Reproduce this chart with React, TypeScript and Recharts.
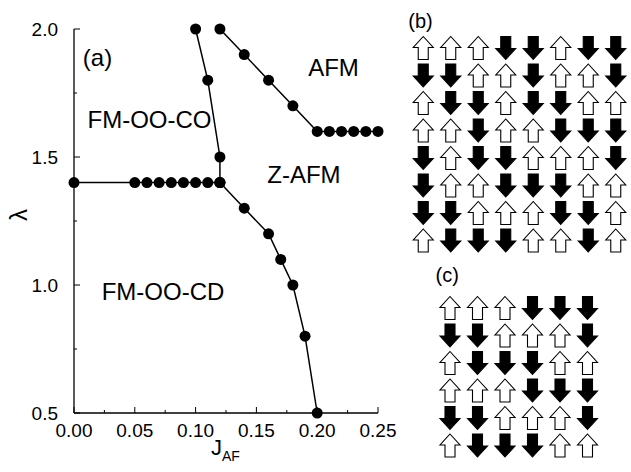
import {
  ComposedChart,
  Line,
  XAxis,
  YAxis,
  ReferenceDot,
  ScatterChart,
  Scatter,
} from "recharts";

const FONT = "'Liberation Sans', Arial, Helvetica, sans-serif";

// phase boundaries, J_AF vs lambda
const coBoundaryJ = [0, 0.05, 0.06, 0.07, 0.08, 0.09, 0.1, 0.11, 0.12];
const coBoundaryLambda = [1.4, 1.4, 1.4, 1.4, 1.4, 1.4, 1.4, 1.4, 1.4];

const zafmLeftJ = [0.12, 0.12, 0.11, 0.1];
const zafmLeftLambda = [1.4, 1.5, 1.8, 2.0];

const afmJ = [0.12, 0.14, 0.16, 0.18, 0.2, 0.21, 0.22, 0.23, 0.24, 0.25];
const afmLambda = [2.0, 1.9, 1.8, 1.7, 1.6, 1.6, 1.6, 1.6, 1.6, 1.6];

const cdJ = [0.12, 0.14, 0.16, 0.17, 0.18, 0.19, 0.2];
const cdLambda = [1.4, 1.3, 1.2, 1.1, 1.0, 0.8, 0.5];

const xTicks = [0, 0.025, 0.05, 0.075, 0.1, 0.125, 0.15, 0.175, 0.2, 0.225, 0.25];
const yTicks = [0.5, 0.75, 1.0, 1.25, 1.5, 1.75, 2.0];

// phase names and where they sit (J_AF, lambda)
const phaseNames = ["(a)", "AFM", "FM-OO-CO", "Z-AFM", "FM-OO-CD"];
const phaseJ = [0.0193, 0.2134, 0.0621, 0.1891, 0.0732];
const phaseLambda = [1.89, 1.85, 1.646, 1.432, 0.973];

// spin patterns, U = up, D = down
const panelBSpins = [
  "UUUDDUDD",
  "DDUUDUUD",
  "UDDUDDUU",
  "UUDUUDDD",
  "DUDDUUUD",
  "DUUDDDUU",
  "DDUUUDDU",
  "UDDDUUDU",
];
const panelCSpins = ["UUUDDD", "DDUUUD", "UDDDUU", "UUUDDD", "DDUUUD", "UDDDUU"];

const toPoints = (xs: number[], ys: number[]) => xs.map((x, i) => ({ x, y: ys[i] }));

const spinPoints = (rows: string[], dir: string) =>
  rows.flatMap((r, row) =>
    r.split("").map((s, col) => ({ col, row, s })).filter((p) => p.s === dir)
  );

const BottomTick = ({ x, y, index, payload }: any) => {
  const major = index % 2 === 0;
  return (
    <g>
      <line x1={x} y1={y} x2={x} y2={y - (major ? 6 : 3)} stroke="#000" />
      {major && (
        <text x={x} y={y + 24} textAnchor="middle" fontSize={19} fill="#000">
          {payload.value.toFixed(2)}
        </text>
      )}
    </g>
  );
};

const TopTick = ({ x, y, index }: any) => (
  <line x1={x} y1={y} x2={x} y2={y + (index % 2 === 0 ? 6 : 3)} stroke="#000" />
);

const LeftTick = ({ x, y, index, payload }: any) => {
  const major = index % 2 === 0;
  return (
    <g>
      <line x1={x} y1={y} x2={x + (major ? 6 : 3)} y2={y} stroke="#000" />
      {major && (
        <text x={x - 16} y={y + 6.5} textAnchor="end" fontSize={19} fill="#000">
          {payload.value.toFixed(1)}
        </text>
      )}
    </g>
  );
};

const RightTick = ({ x, y, index }: any) => (
  <line x1={x} y1={y} x2={x - (index % 2 === 0 ? 6 : 3)} y2={y} stroke="#000" />
);

const ArrowShape = ({ cx, cy, up }: any) => {
  const s = up ? 1 : -1;
  const pts = [
    [0, -11.5],
    [10, -0.5],
    [5, -0.5],
    [5, 11.5],
    [-5, 11.5],
    [-5, -0.5],
    [-10, -0.5],
  ]
    .map(([dx, dy]) => `${cx + dx},${cy + s * dy}`)
    .join(" ");
  return (
    <polygon
      points={pts}
      fill={up ? "#fff" : "#000"}
      stroke="#000"
      strokeWidth={1.1}
    />
  );
};

function SpinPanel({ rows, label, labelCol, labelRow, width, height, margin }: any) {
  const n = rows[0].length;
  return (
    <ScatterChart width={width} height={height} margin={margin}>
      <XAxis type="number" dataKey="col" domain={[-0.5, n - 0.5]} hide />
      <YAxis type="number" dataKey="row" domain={[-0.5, rows.length - 0.5]} reversed hide />
      <Scatter
        data={spinPoints(rows, "U")}
        isAnimationActive={false}
        shape={(p: any) => <ArrowShape cx={p.cx} cy={p.cy} up />}
      />
      <Scatter
        data={spinPoints(rows, "D")}
        isAnimationActive={false}
        shape={(p: any) => <ArrowShape cx={p.cx} cy={p.cy} up={false} />}
      />
      <ReferenceDot
        x={labelCol}
        y={labelRow}
        r={0}
        ifOverflow="visible"
        fill="none"
        stroke="none"
        label={{ value: label, position: "center", fontSize: 20, fill: "#000" }}
      />
    </ScatterChart>
  );
}

export default function App() {
  const series = [
    toPoints(coBoundaryJ, coBoundaryLambda),
    toPoints(zafmLeftJ, zafmLeftLambda),
    toPoints(afmJ, afmLambda),
    toPoints(cdJ, cdLambda),
  ];

  return (
    <div
      style={{
        position: "absolute",
        left: 0,
        top: 0,
        width: 631,
        height: 472,
        background: "#fff",
        fontFamily: FONT,
      }}
    >
      <div style={{ position: "absolute", left: 0, top: 0 }}>
        <ComposedChart
          width={400}
          height={472}
          margin={{ top: 29, right: 22, bottom: 29, left: 14 }}
        >
          <XAxis
            type="number"
            dataKey="x"
            domain={[0, 0.25]}
            ticks={xTicks}
            interval={0}
            height={30}
            tickSize={0}
            tickMargin={0}
            tickLine={false}
            tick={<BottomTick />}
            axisLine={{ stroke: "#000", strokeWidth: 1.3 }}
            label={{
              content: ({ viewBox }: any) => {
                const cx = viewBox.x + viewBox.width / 2 - 15;
                const by = viewBox.y + 42;
                return (
                  <text x={cx} y={by} fill="#000" fontSize={22}>
                    J
                    <tspan fontSize={14} dy={6}>
                      AF
                    </tspan>
                  </text>
                );
              },
            }}
          />
          <XAxis
            xAxisId="top"
            orientation="top"
            type="number"
            dataKey="x"
            domain={[0, 0.25]}
            ticks={xTicks}
            interval={0}
            height={0}
            tickSize={0}
            tickMargin={0}
            tickLine={false}
            tick={<TopTick />}
            axisLine={{ stroke: "#000", strokeWidth: 1.3 }}
          />
          <YAxis
            type="number"
            domain={[0.5, 2.0]}
            ticks={yTicks}
            interval={0}
            width={60}
            tickSize={0}
            tickMargin={0}
            tickLine={false}
            tick={<LeftTick />}
            axisLine={{ stroke: "#000", strokeWidth: 1.3 }}
            label={{
              content: ({ viewBox }: any) => {
                const lx = viewBox.x + 5;
                const ly = viewBox.y + viewBox.height / 2 - 6;
                return (
                  <text
                    x={lx}
                    y={ly}
                    dy={8}
                    fontSize={24}
                    fill="#000"
                    textAnchor="middle"
                    transform={`rotate(-90 ${lx} ${ly})`}
                  >
                    λ
                  </text>
                );
              },
            }}
          />
          <YAxis
            yAxisId="right"
            orientation="right"
            type="number"
            domain={[0.5, 2.0]}
            ticks={yTicks}
            interval={0}
            width={0}
            tickSize={0}
            tickMargin={0}
            tickLine={false}
            tick={<RightTick />}
            axisLine={{ stroke: "#000", strokeWidth: 1.3 }}
          />
          {series.map((d, i) => (
            <Line
              key={i}
              data={d}
              dataKey="y"
              stroke="#000"
              strokeWidth={1.5}
              dot={{ r: 5.5, fill: "#000", stroke: "#000", strokeWidth: 0 }}
              activeDot={false}
              isAnimationActive={false}
            />
          ))}
          {phaseNames.map((name, i) => (
            <ReferenceDot
              key={name}
              x={phaseJ[i]}
              y={phaseLambda[i]}
              r={0}
              fill="none"
              stroke="none"
              label={{ value: name, position: "center", fontSize: 24, fill: "#000" }}
            />
          ))}
        </ComposedChart>
      </div>

      <div style={{ position: "absolute", left: 400, top: 0 }}>
        <SpinPanel
          rows={panelBSpins}
          label="(b)"
          labelCol={-0.1}
          labelRow={-1.0}
          width={231}
          height={260}
          margin={{ top: 34.25, right: 1.5, bottom: 5.75, left: 9.5 }}
        />
      </div>
      <div style={{ position: "absolute", left: 400, top: 260 }}>
        <SpinPanel
          rows={panelCSpins}
          label="(c)"
          labelCol={-0.1}
          labelRow={-1.2}
          width={231}
          height={212}
          margin={{ top: 34.25, right: 29.75, bottom: 12.75, left: 36.25 }}
        />
      </div>
    </div>
  );
}
